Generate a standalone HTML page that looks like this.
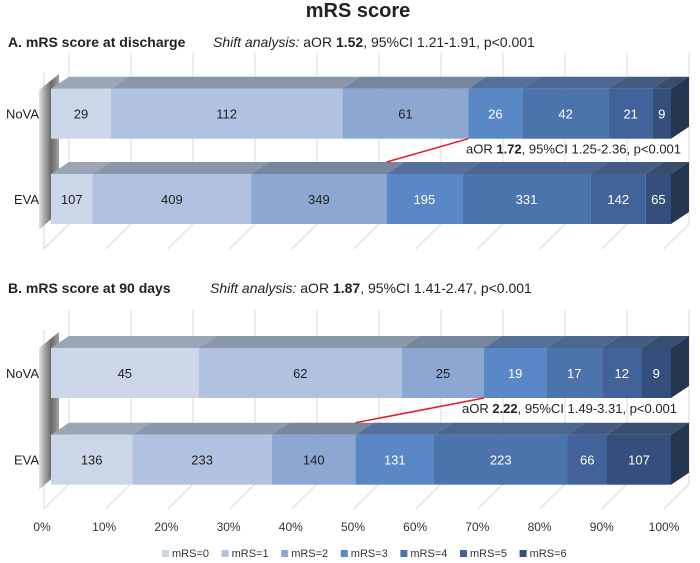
<!DOCTYPE html>
<html><head><meta charset="utf-8"><style>
body{margin:0;background:#fff;}
svg{display:block;font-family:"Liberation Sans",sans-serif;}
</style></head><body>
<svg id="c" width="700" height="563" viewBox="0 0 700 563">
<defs><linearGradient id="sh" x1="0" x2="1" y1="0" y2="0"><stop offset="0" stop-color="#ddd"/><stop offset="0.6" stop-color="#444"/><stop offset="1" stop-color="#888"/></linearGradient></defs>
</svg>
<script>
const categories = ["mRS=0","mRS=1","mRS=2","mRS=3","mRS=4","mRS=5","mRS=6"];
const dischargeNoVA = [29,112,61,26,42,21,9];
const dischargeEVA = [107,409,349,195,331,142,65];
const day90NoVA = [45,62,25,19,17,12,9];
const day90EVA = [136,233,140,131,223,66,107];
const tickLabels = ["0%","10%","20%","30%","40%","50%","60%","70%","80%","90%","100%"];
const colors = ["#cbd7e8","#b0c2e0","#8ca7d2","#5a88c7","#4b74ad","#416399","#344f7b"];
const topColors = ["#9aa5b5","#8a97ab","#76869f","#55709a","#4b6690","#435a82","#394d6f"];
const textColors = ["#222","#222","#222","#fff","#fff","#fff","#fff"];

const NS="http://www.w3.org/2000/svg";
const svg=document.getElementById('c');
const X0=51, W=620, DX=18, DY=12;
function xs(p){return X0+p*W;}
function el(tag,attrs,parent){const e=document.createElementNS(NS,tag);for(const k in attrs)e.setAttribute(k,attrs[k]);(parent||svg).appendChild(e);return e;}
function txt(x,y,s,attrs){const t=el('text',Object.assign({x:x,y:y},attrs||{}));t.innerHTML=s;return t;}

const t0=txt(358,17,"mRS score",{"text-anchor":"middle","font-size":"20","font-weight":"bold",fill:"#222"});


function panel(gTop,gBot,bars,title,titleY,shift){
  const g=el('g',{});
  
  for(let i=0;i<=10;i++){
    const x=xs(i/10)+DX;
    el('line',{x1:x,y1:gTop,x2:x,y2:gBot,stroke:"#d9d9d9","stroke-width":1},g);
    el('line',{x1:x,y1:gBot,x2:x-DX*1.4,y2:gBot+25,stroke:"#d9d9d9","stroke-width":1},g);
  }
  el('line',{x1:X0-7,y1:gTop+20,x2:X0-7,y2:gBot+25,stroke:"#d9d9d9"},g);
  el('polygon',{points:`${X0-12},${gTop+38} ${X0+8},${gTop+22} ${X0+8},${gBot-12} ${X0-12},${gBot+6}`,fill:"url(#sh)",opacity:0.8},g);
  const tt=txt(8,titleY,title,{"font-size":"14","font-weight":"bold",fill:"#222"});
  
  const st=txt(shift.x,titleY,shift.s,{"font-size":"14",fill:"#222"});
  
  const bounds=[];
  bars.forEach(b=>{
    const tot=b.vals.reduce((a,c)=>a+c,0);
    let cum=0;const bd=[0];
    const bg=el('g',{});
    
    
    b.vals.forEach((v,i)=>{
      const x1=xs(cum/tot);cum+=v;const x2=xs(cum/tot);bd.push(cum/tot);
      el('polygon',{points:`${x1},${b.y} ${x1+DX},${b.y-DY} ${x2+DX},${b.y-DY} ${x2},${b.y}`,fill:topColors[i]},bg);
      const r=el('rect',{x:x1,y:b.y,width:x2-x1,height:50,fill:colors[i]},bg);
      
      
      txt((x1+x2)/2,b.y+30,v,{"text-anchor":"middle","font-size":"13",fill:textColors[i]},bg);
    });
    el('polygon',{points:`${xs(1)},${b.y} ${xs(1)+DX},${b.y-DY} ${xs(1)+DX},${b.y+50-DY} ${xs(1)},${b.y+50}`,fill:"#243650"},bg);
    const lb=txt(39,b.y+30,b.name,{"text-anchor":"end","font-size":"13",fill:"#222"});
    
    bounds.push(bd);
  });
  const rl=el('line',{x1:xs(bounds[0][3]),y1:bars[0].y+50,x2:xs(bounds[1][3]),y2:bars[1].y-DY,stroke:"#e8191f","stroke-width":1.5});
  
  const at=txt(shift.ax,bars[0].y+65,shift.a,{"font-size":"13",fill:"#222"});
  
}
panel(52,224,[{name:"NoVA",vals:dischargeNoVA,y:88.7},{name:"EVA",vals:dischargeEVA,y:174}],
  "A. mRS score at discharge",47,
  {x:213,s:'<tspan font-style="italic">Shift analysis:</tspan> aOR <tspan font-weight="bold">1.52</tspan>, 95%CI 1.21-1.91, p&lt;0.001',
   ax:466,a:'aOR <tspan font-weight="bold">1.72</tspan>, 95%CI 1.25-2.36, p&lt;0.001'});
panel(310,484,[{name:"NoVA",vals:day90NoVA,y:348},{name:"EVA",vals:day90EVA,y:434.7}],
  "B. mRS score at 90 days",293,
  {x:210,s:'<tspan font-style="italic">Shift analysis:</tspan> aOR <tspan font-weight="bold">1.87</tspan>, 95%CI 1.41-2.47, p&lt;0.001',
   ax:462,a:'aOR <tspan font-weight="bold">2.22</tspan>, 95%CI 1.49-3.31, p&lt;0.001'});

tickLabels.forEach((s,i)=>{
  const t=txt(42+i*62.2,531,s,{"text-anchor":"middle","font-size":"12",fill:"#333"});
  
  
});
let lx=162;
categories.forEach((c,i)=>{
  const g=el('g',{});
  
  
  el('rect',{x:lx,y:550,width:7,height:7,fill:colors[i]},g);
  txt(lx+10,557,c,{"font-size":"11",fill:"#333"},g);
  lx+=59.6;
});
</script>
</body></html>
